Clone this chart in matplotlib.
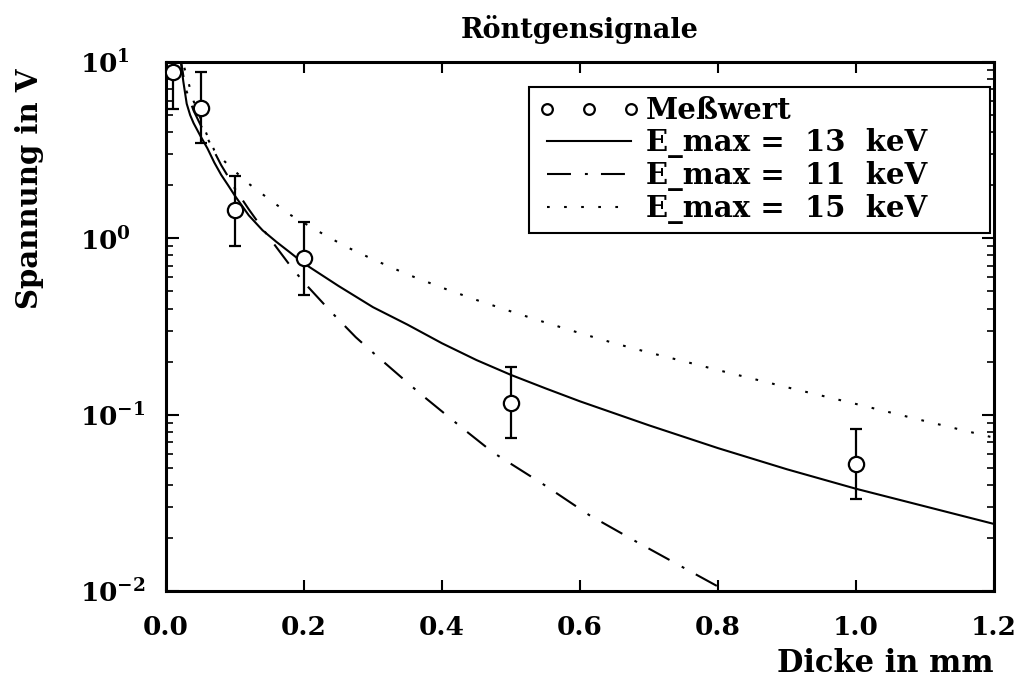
import numpy as np
import matplotlib
matplotlib.use("Agg")
import matplotlib.pyplot as plt
from matplotlib.ticker import LogLocator, FixedLocator, FormatStrFormatter, NullFormatter

# ---- data ----
meas_x = [0.01, 0.05, 0.1, 0.2, 0.5, 1.0]
meas_y = [8.8, 5.5, 1.44, 0.77, 0.117, 0.0527]
meas_lo = [5.4, 3.47, 0.90, 0.48, 0.074, 0.0333]
meas_hi = [14.0, 8.8, 2.25, 1.23, 0.187, 0.083]

e13_x = [0.02, 0.025, 0.03, 0.035, 0.04, 0.05, 0.06, 0.07, 0.08, 0.09, 0.10, 0.12, 0.14,
         0.16, 0.18, 0.20, 0.25, 0.30, 0.35, 0.40, 0.45, 0.50, 0.55, 0.60, 0.70,
         0.80, 0.90, 1.00, 1.10, 1.20]
e13_y = [11.2, 7.8, 5.8, 5.0, 4.5, 3.8, 3.24, 2.69, 2.29, 2.0, 1.74, 1.35, 1.11,
         0.955, 0.83, 0.72, 0.537, 0.407, 0.324, 0.254, 0.204, 0.168, 0.141, 0.119, 0.087,
         0.0646, 0.049, 0.038, 0.0302, 0.024]

e11_x = [0.02, 0.025, 0.03, 0.04, 0.05, 0.06, 0.07, 0.08, 0.09, 0.10, 0.12, 0.14, 0.16,
         0.18, 0.20, 0.233, 0.245, 0.275, 0.305, 0.368, 0.431, 0.474, 0.548, 0.613,
         0.682, 0.751, 0.80, 0.85]
e11_y = [11.2, 8.4, 6.8, 5.3, 4.4, 3.7, 3.1, 2.6, 2.24, 1.91, 1.46, 1.135, 0.89,
         0.70, 0.562, 0.407, 0.363, 0.275, 0.216, 0.132, 0.083, 0.061, 0.040, 0.027,
         0.019, 0.0135, 0.0106, 0.0083]

e15_x = [0.02, 0.03, 0.04, 0.05, 0.06, 0.07, 0.08, 0.10, 0.12, 0.15, 0.18, 0.22,
         0.26, 0.30, 0.35, 0.40, 0.45, 0.50, 0.55, 0.60, 0.65, 0.70, 0.75, 0.80,
         0.90, 1.00, 1.10, 1.20]
e15_y = [11.5, 8.3, 6.0, 4.8, 3.8, 3.16, 2.85, 2.4, 2.04, 1.66, 1.36, 1.10,
         0.90, 0.76, 0.624, 0.525, 0.447, 0.385, 0.333, 0.29, 0.254, 0.225, 0.201, 0.179,
         0.143, 0.115, 0.092, 0.074]

x_ticks = [0.0, 0.2, 0.4, 0.6, 0.8, 1.0, 1.2]

title = "Röntgensignale"
xlabel = "Dicke in mm"
ylabel = "Spannung in V"
labels = ["Meßwert", "E_max =  13  keV", "E_max =  11  keV", "E_max =  15  keV"]

# ---- style ----
plt.rcParams['font.family'] = ['DejaVu Serif']
plt.rcParams['font.weight'] = 'bold'
plt.rcParams['mathtext.fontset'] = 'dejavuserif'
plt.rcParams['mathtext.default'] = 'bf'

W, H = 1023, 686
fig = plt.figure(figsize=(W / 100, H / 100), dpi=100, facecolor='white')
L, R, T, B = 166, 994, 62, 591
ax = fig.add_axes([L / W, 1 - B / H, (R - L) / W, (B - T) / H])

lw = 1.5
yerr = [np.array(meas_y) - np.array(meas_lo), np.array(meas_hi) - np.array(meas_y)]
ax.errorbar(meas_x, meas_y, yerr=yerr, fmt='none', ecolor='black', elinewidth=1.6,
            capsize=4, capthick=1.6, zorder=3)
ax.plot(meas_x, meas_y, 'o', mfc='white', mec='black', ms=11, mew=1.6,
        label=labels[0], zorder=4)
ax.plot(e13_x, e13_y, '-', color='black', lw=lw, label=labels[1])
ax.plot(e11_x, e11_y, color='black', lw=lw, linestyle=(0, (11.5, 6.7, 1.4, 6.3)),
        label=labels[2])
ax.plot(e15_x, e15_y, color='black', lw=lw, linestyle=(0, (1.3, 6.9)),
        label=labels[3])

ax.set_yscale('log')
ax.set_xlim(0, 1.2)
ax.set_ylim(1e-2, 1e1)
ax.xaxis.set_major_locator(FixedLocator(x_ticks))
ax.xaxis.set_major_formatter(FormatStrFormatter('%.1f'))
ax.yaxis.set_major_locator(LogLocator(base=10, numticks=10))
ax.yaxis.set_minor_locator(LogLocator(base=10, subs=np.arange(2, 10), numticks=20))
ax.yaxis.set_minor_formatter(NullFormatter())

ax.tick_params(axis='both', which='both', direction='in', top=True, right=True,
               width=1.5)
ax.tick_params(axis='x', which='major', length=8, pad=17, labelsize=19)
ax.tick_params(axis='y', which='major', length=9, pad=62, labelsize=19)
ax.tick_params(axis='y', which='minor', length=5, width=1.2)
for lab in ax.get_xticklabels() + ax.get_yticklabels():
    lab.set_fontweight('bold')
for lab in ax.get_yticklabels():
    lab.set_horizontalalignment('left')
for s in ax.spines.values():
    s.set_linewidth(2.2)

ax.set_title(title, fontsize=19.5, fontweight='bold', pad=17)
fig.text(994 / W, 1 - 663 / H, xlabel, ha='right', va='center', fontsize=22,
         fontweight='bold')
fig.text(30 / W, 1 - 189 / H, ylabel, ha='center', va='center', rotation=90,
         fontsize=21, fontweight='bold')

x0 = (529 - L) / (R - L)
wl = (990 - 529) / (R - L)
ytop = (B - 87) / (B - T)
leg = ax.legend(loc='upper left', bbox_to_anchor=(x0, 0, wl, ytop), mode='expand',
                borderaxespad=0, fontsize=21, numpoints=3, handlelength=3.5,
                markerscale=0.7, labelspacing=0.11, borderpad=0.3, handletextpad=0.2,
                fancybox=False, frameon=True, edgecolor='black')
leg.get_frame().set_linewidth(1.5)
leg.get_frame().set_alpha(1)
for t in leg.get_texts():
    t.set_fontweight('bold')

fig.savefig('out.png', dpi=100, facecolor='white')
